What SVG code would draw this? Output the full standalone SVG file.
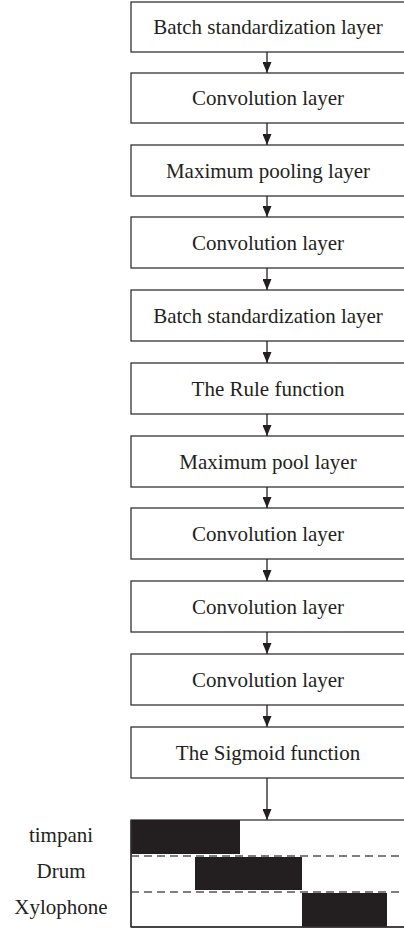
<svg xmlns="http://www.w3.org/2000/svg" width="404" height="929" viewBox="0 0 404 929">
<defs>
<marker id="ah" markerWidth="11" markerHeight="9" refX="11" refY="4.5" orient="auto" markerUnits="userSpaceOnUse" viewBox="0 0 11 9">
<path d="M0,0 L11,4.5 L0,9 Z" fill="#231f20"/>
</marker>
</defs>
<style>
.box{fill:#fff;stroke:#333;stroke-width:1.3}
.t{font-family:'Liberation Serif','Times New Roman',Times,'Noto Serif','DejaVu Serif',serif;font-size:21px;fill:#231f20;text-anchor:middle}
.c{stroke:#231f20;stroke-width:1.3;fill:none}
.bar{fill:#231f20}
.dash{stroke:#555;stroke-width:1.5;stroke-dasharray:8 5}
</style>
<rect width="404" height="929" fill="#fff"/>
<g id="n1"><rect class="box" x="131" y="2" width="280" height="50"/><text class="t" x="268" y="34">Batch standardization layer</text></g>
<g id="n2"><rect class="box" x="131" y="73" width="280" height="50"/><text class="t" x="268" y="105">Convolution layer</text></g>
<g id="n3"><rect class="box" x="131" y="145" width="280" height="51"/><text class="t" x="268" y="178">Maximum pooling layer</text></g>
<g id="n4"><rect class="box" x="131" y="217" width="280" height="51"/><text class="t" x="268" y="250">Convolution layer</text></g>
<g id="n5"><rect class="box" x="131" y="290" width="280" height="51"/><text class="t" x="268" y="323">Batch standardization layer</text></g>
<g id="n6"><rect class="box" x="131" y="363" width="280" height="51"/><text class="t" x="268" y="396">The Rule function</text></g>
<g id="n7"><rect class="box" x="131" y="436" width="280" height="51"/><text class="t" x="268" y="469">Maximum pool layer</text></g>
<g id="n8"><rect class="box" x="131" y="508" width="280" height="51"/><text class="t" x="268" y="541">Convolution layer</text></g>
<g id="n9"><rect class="box" x="131" y="581" width="280" height="51"/><text class="t" x="268" y="614">Convolution layer</text></g>
<g id="n10"><rect class="box" x="131" y="654" width="280" height="51"/><text class="t" x="268" y="687">Convolution layer</text></g>
<g id="n11"><rect class="box" x="131" y="727" width="280" height="51"/><text class="t" x="268" y="760">The Sigmoid function</text></g>
<g id="connectors">
<line class="c" x1="267" y1="52" x2="267" y2="73" marker-end="url(#ah)"/>
<line class="c" x1="267" y1="123" x2="267" y2="145" marker-end="url(#ah)"/>
<line class="c" x1="267" y1="196" x2="267" y2="217" marker-end="url(#ah)"/>
<line class="c" x1="267" y1="268" x2="267" y2="290" marker-end="url(#ah)"/>
<line class="c" x1="267" y1="341" x2="267" y2="363" marker-end="url(#ah)"/>
<line class="c" x1="267" y1="414" x2="267" y2="436" marker-end="url(#ah)"/>
<line class="c" x1="267" y1="487" x2="267" y2="508" marker-end="url(#ah)"/>
<line class="c" x1="267" y1="559" x2="267" y2="581" marker-end="url(#ah)"/>
<line class="c" x1="267" y1="632" x2="267" y2="654" marker-end="url(#ah)"/>
<line class="c" x1="267" y1="705" x2="267" y2="727" marker-end="url(#ah)"/>
<line class="c" x1="267" y1="778" x2="267" y2="820" marker-end="url(#ah)"/>
</g>
<g id="chart">
<rect class="box" x="131" y="820" width="280" height="107"/>
<rect class="bar" x="131" y="820" width="109" height="34"/>
<rect class="bar" x="195" y="857" width="107" height="33"/>
<rect class="bar" x="302" y="893" width="85" height="34"/>
<line class="dash" x1="131" y1="856" x2="404" y2="856"/>
<line class="dash" x1="131" y1="892" x2="404" y2="892"/>
<line x1="131" y1="927" x2="404" y2="927" stroke="#333" stroke-width="1.3"/>
<line x1="131" y1="820" x2="131" y2="927" stroke="#333" stroke-width="1.3"/>
</g>
<g id="labels">
<text class="t" x="61" y="842">timpani</text>
<text class="t" x="61" y="878">Drum</text>
<text class="t" x="61" y="914">Xylophone</text>
</g>
</svg>
